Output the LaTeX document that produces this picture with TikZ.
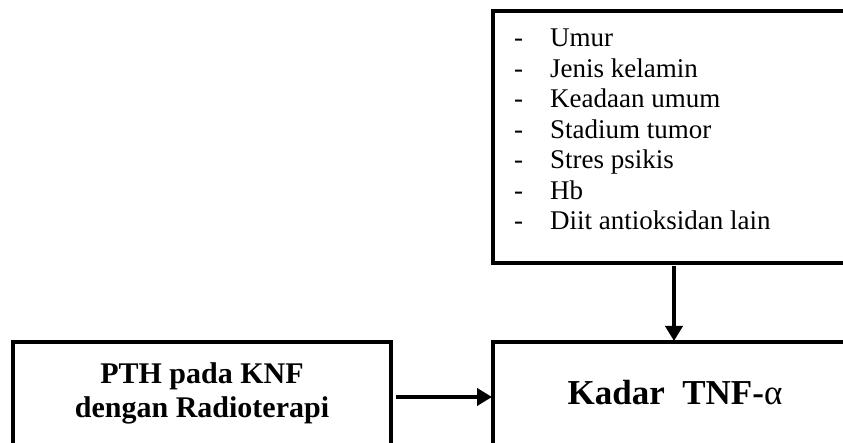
\documentclass[tikz,border=0pt]{standalone}
\usepackage{fontspec}
\setmainfont{Liberation Serif}
\usetikzlibrary{arrows.meta}
\begin{document}
\begin{tikzpicture}[x=1pt,y=-1pt,
  box/.style={draw=black,line width=3.5pt,inner sep=0pt,outer sep=0pt,minimum width=#1},
  listitem/.style={anchor=base west,inner sep=0pt,font=\fontsize{27}{30}\selectfont},
  bigtext/.style={font=\bfseries\fontsize{30}{34}\selectfont,align=center,inner sep=0pt},
  arr/.style={line width=4.5pt,-{Triangle[length=15pt,width=17pt]}}]
\useasboundingbox (0,0) rectangle (843,443);
\clip (0,0) rectangle (843,443);
% boxes (right and bottom sides lie outside the picture)
\node[box=377pt,minimum height=252pt] (factors) at (681.5,137) {};
\node[box=377pt,minimum height=138pt] (kadar) at (681.5,411) {};
\node[box=378pt,minimum height=138pt] (pth) at (202,411) {};
% list
\foreach \t [count=\i from 0] in {Umur,Jenis kelamin,Keadaan umum,Stadium tumor,Stres psikis,Hb,Diit antioksidan lain}{
  \node[listitem] (item\i) at (514,47+30.5*\i) {\makebox[36pt][l]{-}\t};
}
% labels
\node[bigtext,anchor=base] (pthtext) at (202,417) {PTH pada KNF\\dengan Radioterapi};
\node[anchor=base,inner sep=0pt,font=\bfseries\fontsize{35}{38}\selectfont] (kadartext) at (675,404) {Kadar\ \ TNF-{\mdseries α}};
% connectors
\coordinate (ah) at (0,397);
\coordinate (av) at (674,0);
\draw[arr,shorten <=5pt,shorten >=1pt] (pth.east |- ah) -- (kadar.west |- ah);
\draw[arr,shorten <=3pt,shorten >=1pt] (factors.south -| av) -- (kadar.north -| av);
\end{tikzpicture}
\end{document}
